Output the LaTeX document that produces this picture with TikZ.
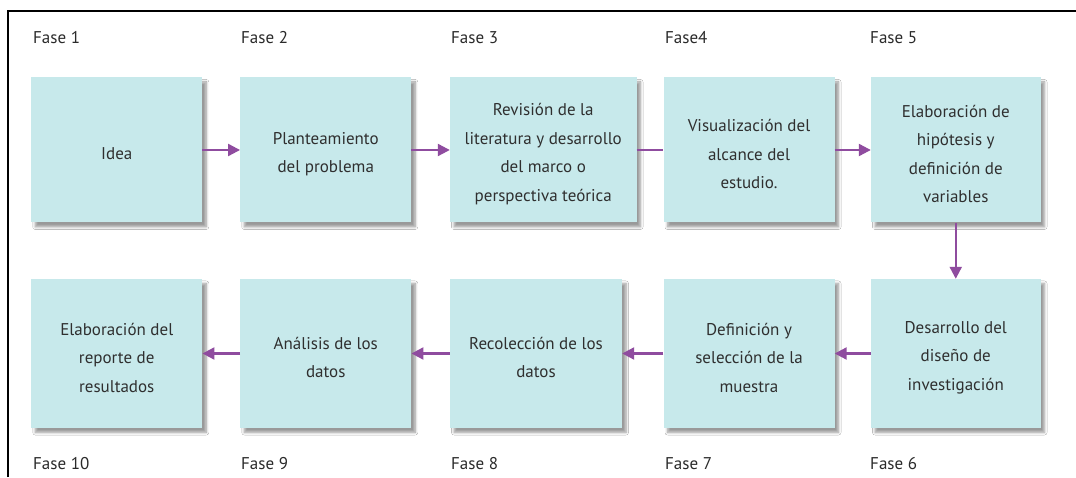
\documentclass[tikz,border=0pt]{standalone}
\usepackage{fontspec}
\setmainfont{PT Sans}
\usetikzlibrary{arrows.meta,shadows.blur}
\definecolor{boxfill}{HTML}{C7E9EB}
\definecolor{arrowc}{HTML}{8F4C9F}
\definecolor{txtc}{HTML}{2F2F2F}
\definecolor{fasec}{HTML}{2A2A2A}
\tikzset{
  phasebox/.style={fill=boxfill, draw=none, inner sep=0pt,
    minimum width=171pt, minimum height=145pt,
    blur shadow={shadow xshift=4pt, shadow yshift=-4.5pt, shadow blur radius=2.5pt, shadow blur steps=6, shadow opacity=40}},
  lowbox/.style={phasebox, minimum height=149pt},
  boxtext/.style={inner sep=0pt, align=center, text=txtc, yshift=-4pt,
    font=\fontsize{17}{28.5}\selectfont},
  fase/.style={anchor=base west, inner sep=0pt, text=fasec, font=\fontsize{17}{20}\selectfont},
  flow/.style={draw=arrowc, line width=2.2pt, -{Triangle[length=12pt,width=12pt]}},
  flowplain/.style={draw=arrowc, line width=2.2pt}
}
\begin{document}
\begin{tikzpicture}[x=1pt,y=1pt]
\useasboundingbox (0,0) rectangle (1076,477);
\fill[white] (0,0) rectangle (1076,477);
\draw[line width=2pt, black] (7.5,0) -- (7.5,465.5) -- (1076,465.5);
% top row
\node[phasebox] (b1) at (116.75,327) {};
\node[phasebox] (b2) at (325.75,327) {};
\node[phasebox, minimum width=186.5pt] (b3) at (543.25,327) {};
\node[phasebox] (b4) at (749,327) {};
\node[phasebox, minimum width=169.5pt] (b5) at (955.75,327) {};
% bottom row
\node[lowbox, minimum width=169.5pt] (b6) at (955.75,123.5) {};
\node[lowbox] (b7) at (749,123.5) {};
\node[lowbox, minimum width=172pt] (b8) at (536,123.5) {};
\node[lowbox] (b9) at (325.75,123.5) {};
\node[lowbox] (b10) at (116.75,123.5) {};
% box texts
\node[boxtext] (t1) at (b1.center) {Idea};
\node[boxtext] (t2) at (b2.center) {Planteamiento\\del problema};
\node[boxtext] (t3) at (b3.center) {Revisión de la\\literatura y desarrollo\\del marco o\\perspectiva teórica};
\node[boxtext] (t4) at (b4.center) {Visualización del\\alcance del\\estudio.};
\node[boxtext] (t5) at (b5.center) {Elaboración de\\hipótesis y\\definición de\\variables};
\node[boxtext] (t6) at (b6.center) {Desarrollo del\\diseño de\\investigación};
\node[boxtext] (t7) at (b7.center) {Definición y\\selección de la\\muestra};
\node[boxtext] (t8) at (b8.center) {Recolección de los\\datos};
\node[boxtext] (t9) at (b9.center) {Análisis de los\\datos};
\node[boxtext] (t10) at (b10.center) {Elaboración del\\reporte de\\resultados};
% labels
\node[fase] (f1) at (33,433) {Fase 1};
\node[fase] (f2) at (241,433) {Fase 2};
\node[fase] (f3) at (451,433) {Fase 3};
\node[fase] (f4) at (665,433) {Fase4};
\node[fase] (f5) at (870,433) {Fase 5};
\node[fase] (f10) at (33,8) {Fase 10};
\node[fase] (f9) at (241,8) {Fase 9};
\node[fase] (f8) at (451,8) {Fase 8};
\node[fase] (f7) at (665,8) {Fase 7};
\node[fase] (f6) at (870,8) {Fase 6};
% connectors
\draw[flow] (b1.east) -- (b2.west);
\draw[flow] (b2.east) -- (b3.west);
\draw[flowplain] (b3.east) -- (b4.west);
\draw[flow] (b4.east) -- (b5.west);
\draw[flow] (b5.south) -- (b6.north);
\draw[flow] (b6.west) -- (b7.east);
\draw[flow] (b7.west) -- (b8.east);
\draw[flow] (b8.west) -- (b9.east);
\draw[flow] (b9.west) -- (b10.east);
\end{tikzpicture}
\end{document}
